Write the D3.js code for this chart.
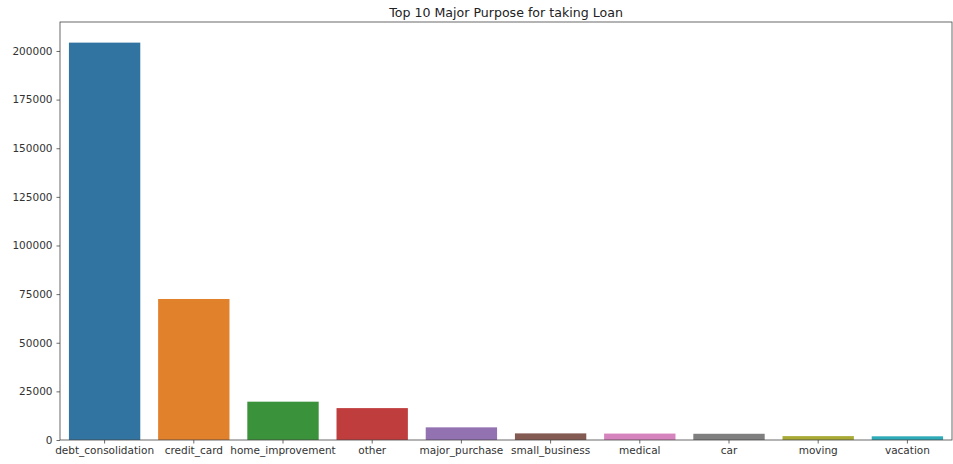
<!DOCTYPE html>
<html>
<head>
<meta charset="utf-8">
<script src="https://cdn.jsdelivr.net/npm/d3@7"></script>
<style>
  body { margin: 0; background: #fff; }
  svg { display: block; font-family: "DejaVu Sans", sans-serif; }
</style>
</head>
<body>
<svg id="chart" width="953" height="464"></svg>
<script>
// loan purposes, counts
var purposes = ['debt_consolidation', 'credit_card', 'home_improvement', 'other', 'major_purchase',
                'small_business', 'medical', 'car', 'moving', 'vacation'];
var counts = [204300, 72500, 19700, 16400, 6500, 3400, 3300, 3200, 2000, 1900];
var yTicks = [0, 25000, 50000, 75000, 100000, 125000, 150000, 175000, 200000];
var barColors = ['#3274a1', '#e1812c', '#3a923a', '#c03d3e', '#9372b2',
                 '#845b53', '#d684bd', '#7f7f7f', '#a9aa35', '#2eabb8'];

var margin = {top: 22, right: 1, bottom: 24, left: 60},
    width = 953 - margin.left - margin.right,
    height = 464 - margin.top - margin.bottom;

var svg = d3.select('#chart');
var g = svg.append('g').attr('transform', 'translate(' + margin.left + ',' + margin.top + ')');

var x = d3.scaleBand().domain(purposes).range([0, width]).paddingInner(0.2).paddingOuter(0.1);
var y = d3.scaleLinear().domain([0, 214900]).range([height, 0]);

g.selectAll('rect.bar')
    .data(purposes)
    .enter().append('rect')
    .attr('class', 'bar')
    .attr('x', function(d){ return x(d); })
    .attr('y', function(d, i){ return y(counts[i]); })
    .attr('width', x.bandwidth())
    .attr('height', function(d, i){ return height - y(counts[i]); })
    .attr('fill', function(d, i){ return barColors[i]; });

var yAxis = g.append('g')
    .call(d3.axisLeft(y).tickValues(yTicks).tickFormat(d3.format('d')).tickSizeOuter(0).tickSize(3.5).tickPadding(4));
var xAxis = g.append('g')
    .attr('transform', 'translate(0,' + height + ')')
    .call(d3.axisBottom(x).tickSizeOuter(0).tickSize(3.5).tickPadding(3));

[yAxis, xAxis].forEach(function(ax){
    ax.select('.domain').remove();
    ax.selectAll('line').attr('stroke', '#444').attr('stroke-width', 0.8);
    ax.selectAll('text').attr('fill', '#333').style('font-size', '10.5px').style('font-family', '"DejaVu Sans", sans-serif');
});

// spines
g.append('rect')
    .attr('width', width).attr('height', height)
    .attr('fill', 'none').attr('stroke', '#444').attr('stroke-width', 0.8);

svg.append('text')
    .attr('x', margin.left + width / 2)
    .attr('y', 17)
    .attr('text-anchor', 'middle')
    .attr('fill', '#222')
    .style('font-size', '12.6px')
    .text('Top 10 Major Purpose for taking Loan');
</script>
</body>
</html>
